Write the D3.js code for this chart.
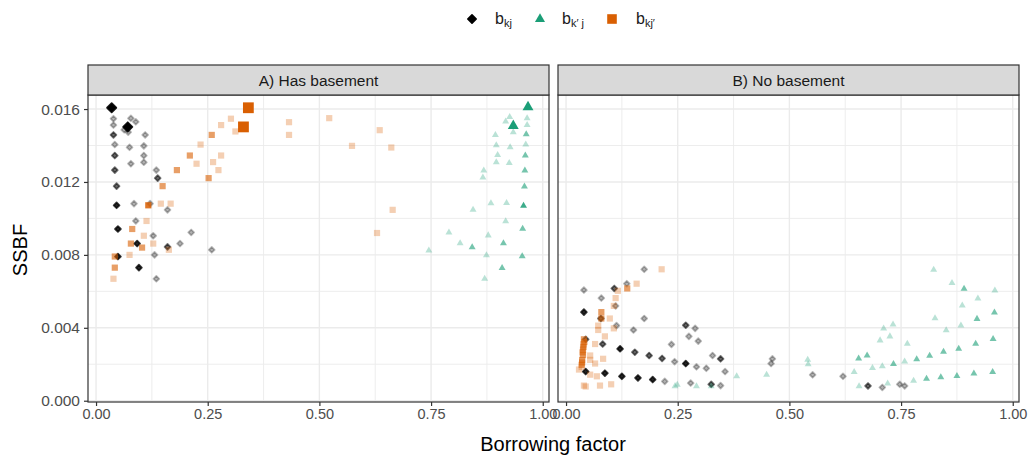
<!DOCTYPE html>
<html>
<head>
<meta charset="utf-8">
<script src="https://cdn.jsdelivr.net/npm/d3@7"></script>
<style>
  html, body { margin: 0; padding: 0; background: #ffffff; }
  svg { display: block; font-family: "Liberation Sans", Arial, sans-serif; }
</style>
</head>
<body>
<svg id="chart" width="1034" height="461"></svg>
<script>
// Facet titles and series labels
const panelTitles = ["A) Has basement", "B) No basement"];
const seriesNames = ["bkj", "bk'j", "bkj'"];
const seriesColors = ["#000000", "#1b9e77", "#d95f02"];

// Axis ticks
const xTicks = [0, 0.25, 0.5, 0.75, 1];
const xMinor = [0.125, 0.375, 0.625, 0.875];
const yTicks = [0, 0.004, 0.008, 0.012, 0.016];
const yMinor = [0.002, 0.006, 0.010, 0.014];

// Each point: [borrowing factor, SSBF, emphasis level 0..3]
const basementBkj = [
  [0.035,0.01607,3],[0.071,0.01502,3],[0.039,0.01547,0],[0.039,0.01512,0],
  [0.078,0.01549,0],[0.089,0.01530,0],[0.063,0.01486,0],[0.072,0.01473,0],
  [0.039,0.01458,1],[0.110,0.01458,0],[0.042,0.01405,0],[0.075,0.01390,0],
  [0.107,0.01398,0],[0.042,0.01345,1],[0.107,0.01345,0],[0.107,0.01308,0],
  [0.078,0.01300,0],[0.042,0.01265,1],[0.135,0.01265,0],[0.138,0.01221,1],
  [0.046,0.01177,1],[0.046,0.01072,2],[0.085,0.01081,0],[0.121,0.01081,0],
  [0.160,0.01047,0],[0.089,0.00986,0],[0.049,0.00942,2],[0.128,0.00905,0],
  [0.213,0.00923,0],[0.092,0.00862,2],[0.160,0.00844,1],[0.188,0.00862,0],
  [0.049,0.00791,2],[0.131,0.00800,0],[0.259,0.00828,0],[0.096,0.00730,2],
  [0.135,0.00669,0]
];
const basementBkpj = [
  [0.967,0.01611,3],[0.934,0.01508,3],[0.926,0.01556,0],[0.917,0.01532,0],
  [0.965,0.01550,0],[0.965,0.01512,0],[0.934,0.01473,0],[0.963,0.01462,1],
  [0.894,0.01457,0],[0.896,0.01401,0],[0.927,0.01390,0],[0.962,0.01405,0],
  [0.899,0.01348,0],[0.961,0.01345,1],[0.896,0.01308,0],[0.925,0.01304,0],
  [0.868,0.01263,0],[0.866,0.01225,0],[0.960,0.01263,1],[0.959,0.01175,1],
  [0.884,0.01083,0],[0.919,0.01085,0],[0.957,0.01070,2],[0.844,0.01048,0],
  [0.917,0.00984,0],[0.955,0.00943,1],[0.790,0.00923,0],[0.878,0.00907,0],
  [0.815,0.00864,0],[0.842,0.00842,1],[0.912,0.00864,1],[0.954,0.00793,1],
  [0.874,0.00798,0],[0.909,0.00728,1],[0.870,0.00669,0],[0.745,0.00824,0]
];
const basementBkjp = [
  [0.341,0.01607,3],[0.330,0.01502,3],[0.302,0.01547,0],[0.280,0.01512,0],
  [0.312,0.01477,0],[0.432,0.01528,0],[0.432,0.01458,0],[0.259,0.01458,1],
  [0.234,0.01405,0],[0.210,0.01345,1],[0.280,0.01345,0],[0.225,0.01300,0],
  [0.262,0.01309,0],[0.274,0.01265,0],[0.181,0.01265,1],[0.252,0.01221,1],
  [0.149,0.01177,1],[0.117,0.01072,2],[0.145,0.01081,0],[0.167,0.01081,0],
  [0.113,0.00986,0],[0.081,0.00942,1],[0.107,0.00905,0],[0.078,0.00862,1],
  [0.103,0.00840,1],[0.128,0.00862,0],[0.163,0.00828,0],[0.042,0.00791,1],
  [0.075,0.00800,0],[0.042,0.00730,1],[0.039,0.00669,0],[0.522,0.01550,0],
  [0.635,0.01484,0],[0.573,0.01398,0],[0.661,0.01389,0],[0.664,0.01047,0],
  [0.629,0.00920,0]
];
const noBasementBkj = [
  [0.175,0.00721,0],[0.040,0.00607,0],[0.136,0.00642,0],[0.108,0.00616,1],
  [0.079,0.00563,0],[0.111,0.00520,0],[0.040,0.00486,2],[0.078,0.00451,1],
  [0.175,0.00451,0],[0.113,0.00412,0],[0.151,0.00388,0],[0.268,0.00414,1],
  [0.289,0.00397,0],[0.275,0.00353,0],[0.296,0.00327,0],[0.236,0.00309,0],
  [0.044,0.00337,1],[0.082,0.00311,1],[0.121,0.00285,2],[0.154,0.00266,1],
  [0.186,0.00248,1],[0.215,0.00232,1],[0.243,0.00214,0],[0.268,0.00204,2],
  [0.328,0.00248,0],[0.346,0.00230,1],[0.292,0.00186,0],[0.314,0.00178,0],
  [0.356,0.00160,0],[0.044,0.00160,2],[0.087,0.00151,2],[0.125,0.00134,2],
  [0.161,0.00125,2],[0.194,0.00116,2],[0.221,0.00106,0],[0.279,0.00097,0],
  [0.325,0.00090,1],[0.346,0.00083,0],[0.462,0.00230,0],[0.459,0.00204,0],
  [0.552,0.00142,0],[0.620,0.00134,0],[0.676,0.00081,1],[0.708,0.00073,0],
  [0.747,0.00090,0],[0.758,0.00081,0]
];
const noBasementBkpj = [
  [0.823,0.00719,0],[0.864,0.00646,0],[0.891,0.00614,1],[0.960,0.00605,0],
  [0.922,0.00561,0],[0.887,0.00522,0],[0.959,0.00484,1],[0.920,0.00449,1],
  [0.826,0.00452,0],[0.884,0.00412,0],[0.851,0.00386,0],[0.956,0.00338,1],
  [0.917,0.00313,1],[0.879,0.00285,1],[0.845,0.00269,1],[0.814,0.00247,1],
  [0.785,0.00228,1],[0.758,0.00215,0],[0.764,0.00313,0],[0.732,0.00418,0],
  [0.711,0.00396,0],[0.725,0.00353,0],[0.703,0.00331,0],[0.674,0.00248,1],
  [0.655,0.00232,1],[0.686,0.00180,0],[0.708,0.00189,0],[0.733,0.00202,1],
  [0.645,0.00158,0],[0.541,0.00225,0],[0.542,0.00200,0],[0.656,0.00079,0],
  [0.720,0.00094,0],[0.778,0.00110,0],[0.807,0.00121,1],[0.839,0.00129,1],
  [0.875,0.00136,1],[0.913,0.00149,1],[0.955,0.00158,1],[0.249,0.00088,0],
  [0.244,0.00080,0],[0.292,0.00079,0],[0.325,0.00079,0],[0.382,0.00134,0],
  [0.449,0.00142,0]
];
const noBasementBkjp = [
  [0.214,0.00721,0],[0.158,0.00642,0],[0.137,0.00616,1],[0.116,0.00603,0],
  [0.111,0.00563,0],[0.107,0.00520,0],[0.079,0.00486,1],[0.079,0.00451,1],
  [0.098,0.00451,0],[0.072,0.00412,0],[0.107,0.00397,0],[0.072,0.00388,0],
  [0.087,0.00353,0],[0.040,0.00337,1],[0.039,0.00309,1],[0.038,0.00280,1],
  [0.065,0.00311,0],[0.054,0.00248,0],[0.083,0.00230,0],[0.038,0.00250,1],
  [0.036,0.00224,1],[0.054,0.00224,0],[0.065,0.00204,0],[0.035,0.00197,1],
  [0.029,0.00171,0],[0.054,0.00143,0],[0.069,0.00134,0],[0.040,0.00083,0],
  [0.044,0.00078,0],[0.076,0.00083,0],[0.101,0.00090,0],[0.037,0.00265,1],
  [0.039,0.00295,1],[0.041,0.00322,1],[0.036,0.00210,1],[0.035,0.00185,0]
];

const panelData = [
  [basementBkj, basementBkpj, basementBkjp],
  [noBasementBkj, noBasementBkpj, noBasementBkjp]
];

// Emphasis level -> opacity
const levelAlpha = [0.3, 0.6, 0.85, 1];

// Layout
const panelLeft = [88, 558];
const panelWidth = 461;
const stripTop = 65, panelTop = 95, panelBottom = 402;

const x = d3.scaleLinear().domain([-0.018, 1.014]).range([0, panelWidth]);
const y = d3.scaleLinear().domain([-0.00007, 0.01677]).range([panelBottom, panelTop]);

// Marker paths centred at the origin
const shapes = [
  r => `M0,${-r}L${r},0L0,${r}L${-r},0Z`,
  r => { const w = r * 2.1, h = w * 0.87; return `M0,${-h * 2 / 3}L${w / 2},${h / 3}L${-w / 2},${h / 3}Z`; },
  r => `M${-r},${-r}H${r}V${r}H${-r}Z`
];
const shapeSize = [[2.9, 4.6], [3.3, 5.2], [3.1, 5.4]];

const svg = d3.select("#chart");

panelTitles.forEach((title, p) => {
  const g = svg.append("g").attr("transform", `translate(${panelLeft[p]},0)`);

  // background and grid
  g.append("rect").attr("x", 0).attr("y", panelTop).attr("width", panelWidth)
    .attr("height", panelBottom - panelTop).attr("fill", "#ffffff");
  const grid = g.append("g");
  grid.selectAll(".vmin").data(xMinor).join("line")
    .attr("x1", d => x(d)).attr("x2", d => x(d)).attr("y1", panelTop).attr("y2", panelBottom)
    .attr("stroke", "#ebebeb").attr("stroke-width", 0.9);
  grid.selectAll(".hmin").data(yMinor).join("line")
    .attr("x1", 0).attr("x2", panelWidth).attr("y1", d => y(d)).attr("y2", d => y(d))
    .attr("stroke", "#ebebeb").attr("stroke-width", 0.9);
  grid.selectAll(".vmaj").data(xTicks).join("line")
    .attr("x1", d => x(d)).attr("x2", d => x(d)).attr("y1", panelTop).attr("y2", panelBottom)
    .attr("stroke", "#ebebeb").attr("stroke-width", 1.4);
  grid.selectAll(".hmaj").data(yTicks).join("line")
    .attr("x1", 0).attr("x2", panelWidth).attr("y1", d => y(d)).attr("y2", d => y(d))
    .attr("stroke", "#ebebeb").attr("stroke-width", 1.4);

  // points, one layer per series
  panelData[p].forEach((pts, s) => {
    const layer = g.append("g");
    layer.selectAll("path").data(pts).join("path")
      .attr("transform", d => `translate(${x(d[0])},${y(d[1])})`)
      .attr("d", d => shapes[s](d[2] === 3 ? shapeSize[s][1] : shapeSize[s][0]))
      .attr("fill", seriesColors[s])
      .attr("fill-opacity", d => levelAlpha[d[2]])
      .attr("stroke", s === 0 ? seriesColors[s] : "none")
      .attr("stroke-opacity", d => levelAlpha[d[2]] * 0.9)
      .attr("stroke-width", 1.8)
      .attr("stroke-linejoin", "round");
  });

  // panel border
  g.append("rect").attr("x", 0).attr("y", panelTop).attr("width", panelWidth)
    .attr("height", panelBottom - panelTop).attr("fill", "none")
    .attr("stroke", "#333333").attr("stroke-width", 1.2);

  // strip
  g.append("rect").attr("x", 0).attr("y", stripTop).attr("width", panelWidth)
    .attr("height", panelTop - stripTop).attr("fill", "#d9d9d9")
    .attr("stroke", "#333333").attr("stroke-width", 1.2);
  g.append("text").attr("x", panelWidth / 2).attr("y", (stripTop + panelTop) / 2)
    .attr("text-anchor", "middle").attr("dominant-baseline", "central")
    .attr("font-size", 15.5).attr("fill", "#1a1a1a").text(title);

  // x axis
  const xa = g.append("g").attr("transform", `translate(0,${panelBottom})`)
    .call(d3.axisBottom(x).tickValues(xTicks).tickFormat(d3.format(".2f")).tickSize(4).tickPadding(3));
  xa.select(".domain").remove();
  xa.selectAll("line").attr("stroke", "#333333").attr("stroke-width", 1.2);
  xa.selectAll("text").attr("font-size", 14.5).attr("fill", "#4d4d4d")
    .attr("font-family", "'Liberation Sans', Arial, sans-serif");

  if (p === 0) {
    const ya = g.append("g")
      .call(d3.axisLeft(y).tickValues(yTicks).tickFormat(d3.format(".3f")).tickSize(4).tickPadding(4));
    ya.select(".domain").remove();
    ya.selectAll("line").attr("stroke", "#333333").attr("stroke-width", 1.2);
    ya.selectAll("text").attr("font-size", 15.5).attr("fill", "#4d4d4d")
      .attr("font-family", "'Liberation Sans', Arial, sans-serif");
  }
});

// axis titles
svg.append("text").attr("x", 553).attr("y", 451).attr("text-anchor", "middle")
  .attr("font-size", 20).attr("fill", "#000000").text("Borrowing factor");
svg.append("text").attr("transform", "translate(27,250) rotate(-90)")
  .attr("text-anchor", "middle").attr("font-size", 20).attr("fill", "#000000").text("SSBF");

// legend
const legendItems = [
  { s: 0, mx: 472, tx: 495, sub: "kj" },
  { s: 1, mx: 540, tx: 562, sub: "k\u2032 j" },
  { s: 2, mx: 612, tx: 636, sub: "kj\u2032" }
];
const legend = svg.append("g");
legendItems.forEach(it => {
  legend.append("path").attr("transform", `translate(${it.mx},19)`)
    .attr("d", shapes[it.s](it.s === 0 ? 4.2 : 4.8))
    .attr("fill", seriesColors[it.s])
    .attr("stroke", it.s === 0 ? seriesColors[it.s] : "none")
    .attr("stroke-width", 1.6).attr("stroke-linejoin", "round");
  const t = legend.append("text").attr("x", it.tx).attr("y", 24)
    .attr("font-size", 16).attr("fill", "#1a1a1a");
  t.append("tspan").text("b");
  t.append("tspan").attr("dy", 3).attr("font-size", 11).text(it.sub);
});
</script>
</body>
</html>
